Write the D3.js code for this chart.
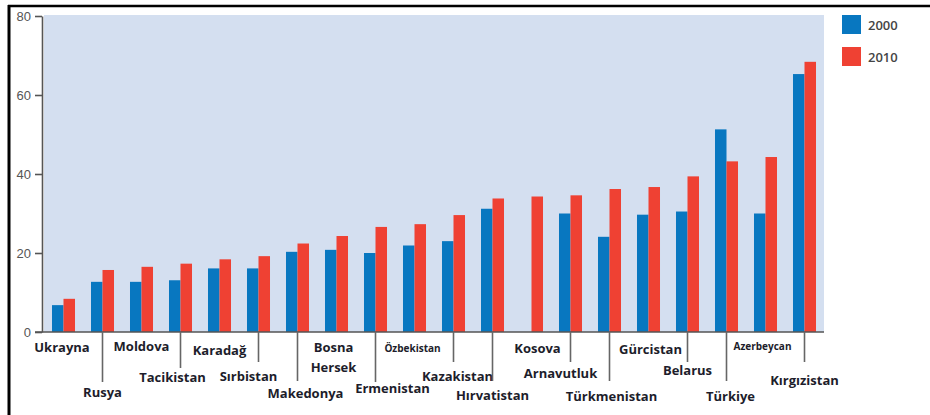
<!DOCTYPE html>
<html><head><meta charset="utf-8">
<script src="https://cdn.jsdelivr.net/npm/d3@7"></script>
<style>
body{margin:0;background:#fff;}
svg{display:block;}
</style></head>
<body>
<svg id="chart" width="930" height="415"></svg>
<script>
const countries = ["Ukrayna","Rusya","Moldova","Tacikistan","Karadağ","Sırbistan","Makedonya","Bosna Hersek","Ermenistan","Özbekistan","Kazakistan","Hırvatistan","Kosova","Arnavutluk","Türkmenistan","Gürcistan","Belarus","Türkiye","Azerbeycan","Kırgızistan"];
const years = ["2000","2010"];
const values2000 = [6.8,12.7,12.7,13.1,16.1,16.1,20.3,20.8,20.0,21.9,23.0,31.2,null,30.0,24.1,29.7,30.5,51.3,30.0,65.3];
const values2010 = [8.4,15.7,16.5,17.3,18.4,19.2,22.4,24.3,26.6,27.3,29.6,33.8,34.3,34.6,36.2,36.7,39.4,43.2,44.3,68.4];
const yTicks = [0,20,40,60,80];
const tickedCountries = ["Rusya","Tacikistan","Sırbistan","Makedonya","Ermenistan","Kazakistan","Hırvatistan","Arnavutluk","Türkmenistan","Belarus","Türkiye","Kırgızistan"];

// label layout (offset from band centre, baseline y, tick end, font size)
const layout = {
  "Ukrayna":[-1.5,352],"Rusya":[0,397,382],"Moldova":[0,351],"Tacikistan":[-8,382,368],
  "Karadağ":[0,355],"Sırbistan":[-10,381,362],"Makedonya":[8,398,381],"Bosna Hersek":[-3,352],
  "Ermenistan":[17,393,382],"Özbekistan":[-2,352,null,10],"Kazakistan":[4,381,362],"Hırvatistan":[0,400,381],
  "Kosova":[6,353],"Arnavutluk":[-10,378,362],"Türkmenistan":[2,401,381],"Gürcistan":[2,354],
  "Belarus":[0,375,362],"Türkiye":[4,401,381],"Azerbeycan":[-3,350,null,10],"Kırgızistan":[0,385,362]
};

const colors = {"2000":"#0877c0","2010":"#ef4133"};
const svg = d3.select("#chart");
const pLeft = 44, pRight = 824, pTop = 15, pBottom = 332;

// frame lines
svg.append("line").attr("x1",8).attr("x2",930).attr("y1",6).attr("y2",6).attr("stroke","#000").attr("stroke-width",2.5);
svg.append("line").attr("x1",9).attr("x2",9).attr("y1",5).attr("y2",415).attr("stroke","#000").attr("stroke-width",3);

svg.append("rect").attr("x",pLeft).attr("y",pTop).attr("width",pRight-pLeft).attr("height",pBottom-pTop).attr("fill","#d4dff0");

const x0 = d3.scaleBand().domain(countries).range([pLeft,pRight]).paddingInner(0.41).paddingOuter(0.205);
const x1 = d3.scaleBand().domain(years).range([0,x0.bandwidth()]);
const y = d3.scaleLinear().domain([0,80]).range([pBottom,16]);

const rows = countries.map((c,i)=>({c, v:{"2000":values2000[i],"2010":values2010[i]}}));
const g = svg.append("g");
rows.forEach(r=>{
  years.forEach(yr=>{
    const v = r.v[yr];
    if (v==null) return;
    g.append("rect").attr("x",x0(r.c)+x1(yr)).attr("width",x1.bandwidth())
      .attr("y",y(v)).attr("height",y(0)-y(v)).attr("fill",colors[yr]);
  });
});

// y axis
const yAxis = d3.axisLeft(y).tickValues(yTicks).tickSize(7).tickSizeOuter(0);
const ya = svg.append("g").attr("transform",`translate(42,0)`).call(yAxis);
ya.select(".domain").attr("stroke","#555").attr("stroke-width",1.6);
ya.selectAll(".tick line").attr("stroke","#555").attr("stroke-width",1.6);
ya.selectAll(".tick text").attr("x",-11).attr("fill","#555").style("font-family","Liberation Sans, Arial").style("font-size","13px");

// x axis line
svg.append("line").attr("x1",35).attr("x2",824).attr("y1",pBottom).attr("y2",pBottom).attr("stroke","#555").attr("stroke-width",1.6);

// category tick lines and labels
countries.forEach(c=>{
  const cx = x0(c)+x0.bandwidth()/2;
  const L = layout[c];
  if (tickedCountries.includes(c)) {
    svg.append("line").attr("x1",cx).attr("x2",cx).attr("y1",pBottom).attr("y2",L[2])
      .attr("stroke","#666").attr("stroke-width",1.6);
  }
  const parts = c==="Bosna Hersek" ? ["Bosna","Hersek"] : [c];
  parts.forEach((p,k)=>{
    svg.append("text").attr("x",cx+L[0]).attr("y",L[1]+k*20).attr("text-anchor","middle")
      .style("font-family","Open Sans, sans-serif").style("font-weight","700")
      .style("font-size",(L[3]||13)+"px").attr("fill","#1d1d2b").text(p);
  });
});

// legend
years.forEach((yr,i)=>{
  svg.append("rect").attr("x",842).attr("y",15+i*32).attr("width",19).attr("height",19).attr("fill",colors[yr]);
  svg.append("text").attr("x",868).attr("y",29.5+i*32).attr("fill","#444")
    .style("font-family","Open Sans, sans-serif").style("font-size","13px").style("font-weight","600").text(yr);
});
</script>
</body></html>
